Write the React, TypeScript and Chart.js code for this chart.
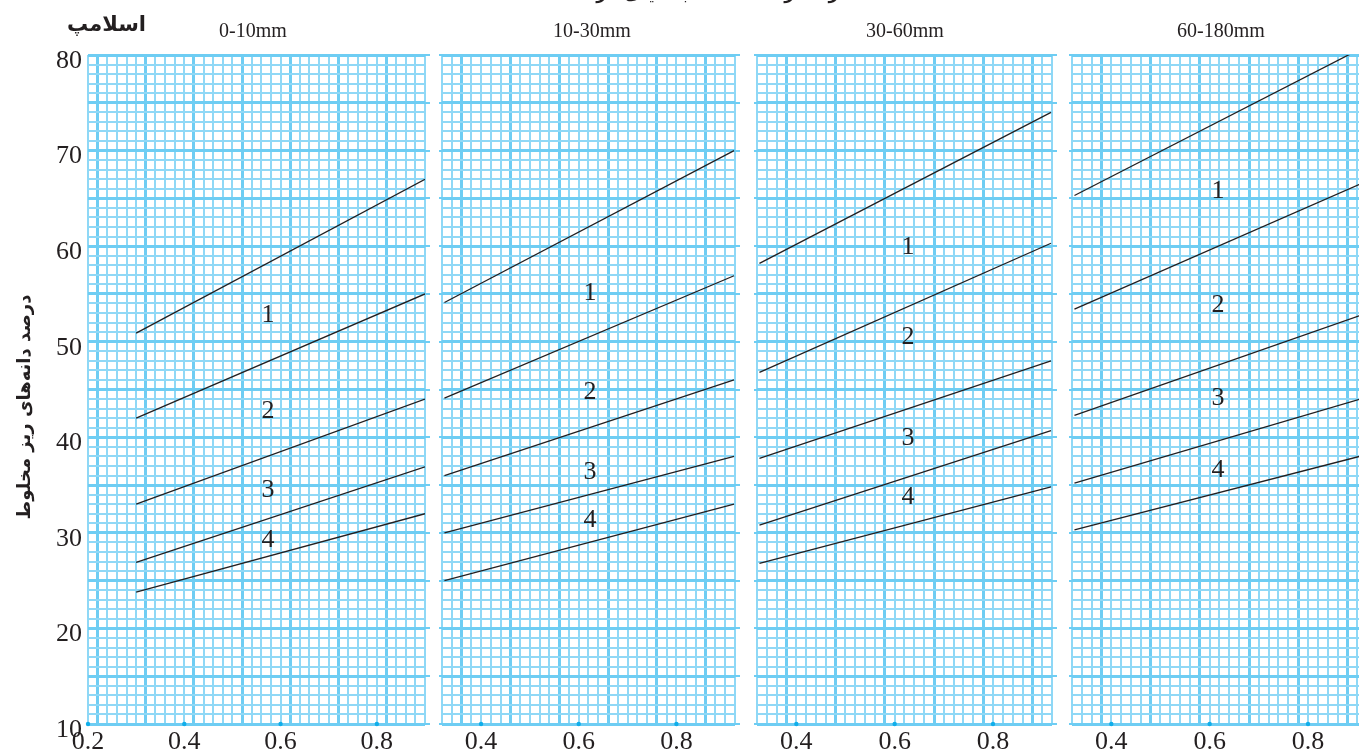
import React, { useEffect, useRef } from 'react';
import { Chart, registerables } from 'chart.js';

Chart.register(...registerables);

// ---------------- data ----------------
const Y_MIN = 10;
const Y_MAX = 80;
const Y_TICK_LABELS = [10, 20, 30, 40, 50, 60, 70, 80];
const PANEL_TITLES = ['0-10mm', '10-30mm', '30-60mm', '60-180mm'];
const X_RANGES = [
  [0.2, 0.9],
  [0.32, 0.92],
  [0.32, 0.92],
  [0.32, 0.92],
];
const X_TICK_LABELS = [
  [0.2, 0.4, 0.6, 0.8],
  [0.4, 0.6, 0.8],
  [0.4, 0.6, 0.8],
  [0.4, 0.6, 0.8],
];
// x of the start and end of the boundary lines
const LINE_X = [
  [0.3, 0.9],
  [0.325, 0.918],
  [0.325, 0.918],
  [0.325, 0.92],
];
// five boundary lines per panel: value at start and at end
const LINE_START = [
  [50.9, 42.0, 33.0, 26.9, 23.8],
  [54.1, 44.1, 36.0, 30.0, 25.0],
  [58.2, 46.8, 37.8, 30.8, 26.8],
  [65.3, 53.4, 42.3, 35.2, 30.3],
];
const LINE_END = [
  [67.0, 55.0, 44.0, 36.9, 32.0],
  [70.0, 56.9, 46.0, 38.0, 33.0],
  [74.0, 60.3, 48.0, 40.7, 34.8],
  [81.0, 66.8, 53.0, 44.2, 38.2],
];
const ZONE_LABELS = ['1', '2', '3', '4'];
const ZONE_X = [0.574, 0.623, 0.627, 0.617];
const ZONE_Y = [
  [52.8, 42.75, 34.5, 29.25],
  [55.1, 44.7, 36.4, 31.3],
  [59.9, 50.5, 39.9, 33.75],
  [65.8, 53.8, 44.1, 36.6],
];
const Y_AXIS_TITLE = 'درصد دانه‌های ریز مخلوط';
const SLUMP_TITLE = 'اسلامپ';
const TOP_TITLE = 'حداکثر قطر سنگدانه‌ها به میلی‌متر';

// ---------------- layout / style ----------------
const LAYOUT = [
  { left: 0, width: 440, padLeft: 0, padRight: 15, yWidth: 88, titleX: 253, majorOff: 2 },
  { left: 434, width: 309, padLeft: 8, padRight: 8, yWidth: 0, titleX: 592, majorOff: 6 },
  { left: 749, width: 311, padLeft: 8, padRight: 8, yWidth: 0, titleX: 905, majorOff: 8 },
  { left: 1064, width: 311, padLeft: 8, padRight: 8, yWidth: 0, titleX: 1221, majorOff: 8 },
];
const H = 754;
const MINOR = '#8fd8f6';
const MAJOR = '#6ecdf3';
const INK = '#231f20';
const SERIF = '"Liberation Serif", "Times New Roman", serif';

function Panel({ idx }: { idx: number }) {
  const ref = useRef<HTMLCanvasElement | null>(null);
  useEffect(() => {
    const L = LAYOUT[idx];
    const [xmin, xmax] = X_RANGES[idx];
    const lx = LINE_X[idx];
    const datasets: any[] = LINE_START[idx].map((s, i) => ({
      type: 'line',
      data: [
        { x: lx[0], y: s },
        { x: lx[1], y: LINE_END[idx][i] },
      ],
      borderColor: INK,
      borderWidth: 1.3,
      pointRadius: 0,
      tension: 0,
      fill: false,
    }));
    datasets.push({
      type: 'scatter',
      data: X_TICK_LABELS[idx].map((v) => ({ x: v, y: Y_MIN })),
      backgroundColor: '#10aeea',
      borderWidth: 0,
      pointRadius: 2.2,
      clip: false,
    });
    const isMajorX = (v: number | undefined) =>
      v !== undefined && Math.round(v * 100) % 10 === L.majorOff;
    const isMajorY = (v: number | undefined) =>
      v !== undefined && Math.round(v) % 5 === 0;
    const isLabelX = (v: number) =>
      X_TICK_LABELS[idx].some((t) => Math.abs(t - v) < 1e-6);

    const overlay = {
      id: 'overlay' + idx,
      afterDatasetsDraw(chart: any) {
        const { ctx, chartArea, scales } = chart;
        const xs = scales.x;
        const ys = scales.y;
        ctx.save();
        // short marks at every 5 units on the panel edges
        ctx.strokeStyle = MAJOR;
        ctx.lineWidth = 2;
        for (let v = Y_MIN; v <= Y_MAX; v += 5) {
          const y = Math.round(ys.getPixelForValue(v));
          ctx.beginPath();
          ctx.moveTo(chartArea.right, y);
          ctx.lineTo(chartArea.right + 5, y);
          if (idx > 0) {
            ctx.moveTo(chartArea.left - 3, y);
            ctx.lineTo(chartArea.left, y);
          }
          ctx.stroke();
        }
        // zone labels
        ctx.fillStyle = INK;
        ctx.font = '26px ' + SERIF;
        ctx.textAlign = 'center';
        ctx.textBaseline = 'middle';
        ZONE_LABELS.forEach((t, i) => {
          ctx.fillText(t, xs.getPixelForValue(ZONE_X[idx]), ys.getPixelForValue(ZONE_Y[idx][i]));
        });
        ctx.restore();
      },
    };

    const chart = new Chart(ref.current as HTMLCanvasElement, {
      type: 'line',
      data: { datasets },
      plugins: [overlay as any],
      options: {
        animation: false,
        responsive: false,
        events: [],
        layout: { padding: { top: 55, bottom: 0, left: L.padLeft, right: L.padRight } },
        plugins: { legend: { display: false }, tooltip: { enabled: false }, title: { display: false } },
        scales: {
          x: {
            type: 'linear',
            min: xmin,
            max: xmax,
            bounds: 'data',
            afterBuildTicks: (s: any) => {
              const n = Math.round((xmax - xmin) / 0.02);
              const t = [];
              for (let i = 0; i <= n; i++) t.push({ value: Math.round((xmin + i * 0.02) * 10000) / 10000 });
              s.ticks = t;
            },
            afterFit: (s: any) => {
              s.height = 30;
            },
            border: { display: false },
            grid: {
              drawTicks: false,
              color: (c: any) => (isMajorX(c.tick?.value) ? MAJOR : MINOR),
              lineWidth: (c: any) => (isMajorX(c.tick?.value) ? 3 : 2),
            },
            ticks: {
              autoSkip: false,
              maxRotation: 0,
              minRotation: 0,
              padding: 3,
              color: INK,
              font: { family: SERIF, size: 26 },
              callback: (v: any) => (isLabelX(Number(v)) ? String(Number(v).toFixed(1)) : ''),
            },
          },
          y: {
            type: 'linear',
            min: Y_MIN,
            max: Y_MAX,
            bounds: 'data',
            afterBuildTicks: (s: any) => {
              const t = [];
              for (let v = Y_MIN; v <= Y_MAX; v++) t.push({ value: v });
              s.ticks = t;
            },
            afterFit: (s: any) => {
              s.width = L.yWidth;
            },
            border: { display: false },
            grid: {
              drawTicks: false,
              color: (c: any) => (isMajorY(c.tick?.value) ? MAJOR : MINOR),
              lineWidth: (c: any) => (isMajorY(c.tick?.value) ? 3 : 2),
            },
            ticks: {
              display: idx === 0,
              autoSkip: false,
              padding: 6,
              labelOffset: 6,
              color: INK,
              font: { family: SERIF, size: 26 },
              callback: (v: any) => (Y_TICK_LABELS.includes(Number(v)) ? String(v) : ''),
            },
          },
        },
      } as any,
    });
    return () => chart.destroy();
  }, [idx]);
  const L = LAYOUT[idx];
  return (
    <canvas
      ref={ref}
      width={L.width}
      height={H}
      style={{ position: 'absolute', left: L.left, top: 0, width: L.width, height: H }}
    />
  );
}

export default function App() {
  return (
    <div
      style={{
        position: 'absolute',
        left: 0,
        top: 0,
        width: 1359,
        height: 754,
        overflow: 'hidden',
        background: '#fff',
      }}
    >
      {LAYOUT.map((_, i) => (
        <Panel key={i} idx={i} />
      ))}
      {PANEL_TITLES.map((t, i) => (
        <div
          key={t}
          style={{
            position: 'absolute',
            left: LAYOUT[i].titleX - 100,
            width: 200,
            top: 20,
            lineHeight: '20px',
            fontSize: 20,
            fontFamily: SERIF,
            color: INK,
            textAlign: 'center',
          }}
        >
          {t}
        </div>
      ))}
      <div
        style={{
          position: 'absolute',
          left: 40,
          width: 106,
          top: 12,
          lineHeight: '24px',
          fontSize: 21,
          fontWeight: 'bold',
          fontFamily: '"DejaVu Sans", sans-serif',
          color: INK,
          textAlign: 'right',
          direction: 'rtl',
        }}
      >
        {SLUMP_TITLE}
      </div>
      <div
        style={{
          position: 'absolute',
          left: 24 - 150,
          top: 407 - 15,
          width: 300,
          height: 30,
          lineHeight: '30px',
          fontSize: 18,
          fontWeight: 'bold',
          fontFamily: '"DejaVu Sans", sans-serif',
          color: INK,
          textAlign: 'center',
          direction: 'rtl',
          transform: 'rotate(-90deg)',
          whiteSpace: 'nowrap',
        }}
      >
        {Y_AXIS_TITLE}
      </div>
      <div
        style={{
          position: 'absolute',
          left: 740 - 250,
          width: 500,
          top: -19,
          lineHeight: '24px',
          fontSize: 17,
          fontWeight: 'bold',
          fontFamily: '"DejaVu Sans", sans-serif',
          color: INK,
          textAlign: 'center',
          direction: 'rtl',
          whiteSpace: 'nowrap',
        }}
      >
        {TOP_TITLE}
      </div>
    </div>
  );
}
